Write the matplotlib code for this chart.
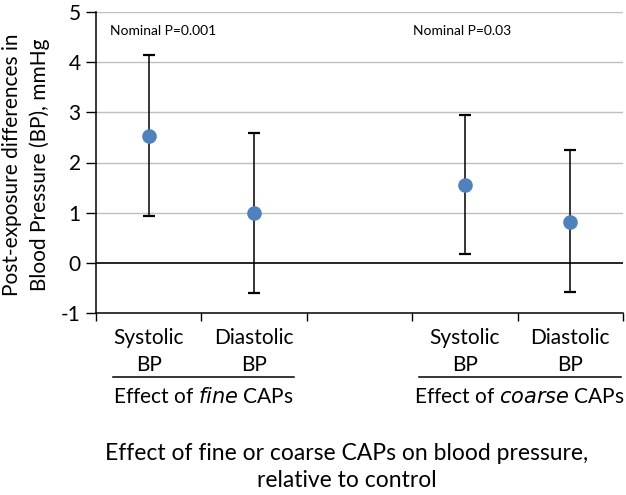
import matplotlib
matplotlib.use("Agg")
import matplotlib.pyplot as plt
import matplotlib.transforms as mtransforms

plt.rcParams['font.family'] = ['Lato', 'DejaVu Sans']

categories = ["Systolic\nBP", "Diastolic\nBP", "", "Systolic\nBP", "Diastolic\nBP"]
point_x = [1, 2, 4, 5]
means = [2.53, 0.99, 1.56, 0.82]
upper = [4.14, 2.58, 2.95, 2.24]
lower = [0.93, -0.61, 0.17, -0.59]
p_labels = ["Nominal P=0.001", "Nominal P=0.03"]
group_labels = ["Effect of $\\it{fine}$ CAPs", "Effect of $\\it{coarse}$ CAPs"]
yticks = [-1, 0, 1, 2, 3, 4, 5]

W, H = 626, 495
fig = plt.figure(figsize=(W / 100, H / 100), dpi=100)
ax = fig.add_axes([96 / W, 1 - 313 / H, (623 - 96) / W, (313 - 12) / H])

FS = 15

ax.set_xlim(0.5, 5.5)
ax.set_ylim(-1, 5)
ax.set_yticks(yticks)
ax.set_yticklabels([str(v) for v in yticks], fontsize=FS)
for v in yticks:
    if v not in (-1, 0):
        ax.axhline(v, color='#BFBFBF', lw=1.0, zorder=0)
ax.axhline(0, color='black', lw=1.2, zorder=1)

yerr = [[m - l for m, l in zip(means, lower)], [u - m for m, u in zip(means, upper)]]
ax.errorbar(point_x, means, yerr=yerr, fmt='o', color='#4F81BD', markersize=9.5,
            ecolor='black', elinewidth=1.1, capsize=4, capthick=1.6, zorder=3)

ax.spines['top'].set_visible(False)
ax.spines['right'].set_visible(False)
ax.spines['left'].set_linewidth(1.1)
ax.spines['bottom'].set_linewidth(1.1)
ax.tick_params(axis='y', direction='out', length=7, width=1.0, pad=4)

ax.set_xticks([0.5, 1.5, 2.5, 3.5, 4.5, 5.5])
ax.set_xticklabels([])
ax.tick_params(axis='x', direction='out', length=6, width=1.0)
for i, c in enumerate(categories):
    ax.text(i + 1, -1.29, c, ha='center', va='top', fontsize=FS, linespacing=1.45)

ax.text(0.63, 4.62, p_labels[0], ha='left', va='center', fontsize=10)
ax.text(3.51, 4.62, p_labels[1], ha='left', va='center', fontsize=10)

trans = mtransforms.blended_transform_factory(ax.transData, fig.transFigure)
for (x0, x1), lab in zip([(0.66, 2.38), (3.56, 5.48)], group_labels):
    ax.plot([x0, x1], [1 - 376.7 / H] * 2, color='black', lw=1.1,
            transform=trans, clip_on=False)
    ax.text((x0 + x1) / 2, 1 - 397 / H, lab, ha='center', va='center',
            fontsize=FS, transform=trans)

fig.text(26 / W, 1 - 165 / H, "Post-exposure differences in\nBlood Pressure (BP), mmHg",
         rotation=90, ha='center', va='center', fontsize=FS, linespacing=1.45)

fig.text(347 / W, 1 - 467 / H,
         "Effect of fine or coarse CAPs on blood pressure,\nrelative to control",
         ha='center', va='center', fontsize=16.5, linespacing=1.4)

fig.savefig("out.png", dpi=100)
